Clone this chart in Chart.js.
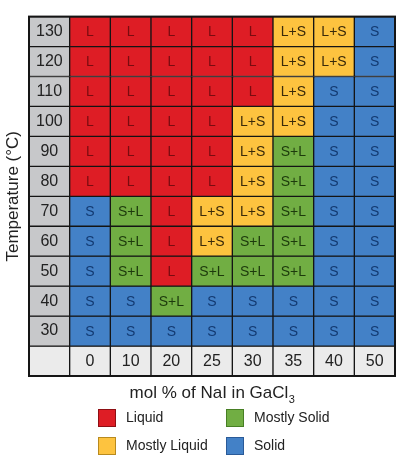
<!DOCTYPE html>
<html>
<head>
<meta charset="utf-8">
<script src="https://cdn.jsdelivr.net/npm/chart.js@4/dist/chart.umd.min.js"></script>
<style>
  html, body { margin: 0; padding: 0; background: #fff; }
  #contenedor { width: 400px; height: 459px; }
</style>
</head>
<body>
<div id="contenedor"><canvas id="graficaFases"></canvas></div>
<script>
// =============================================
// DATOS
// =============================================

// columnas: mol % de NaI
const composiciones = ["0", "10", "20", "25", "30", "35", "40", "50"];
// filas: temperatura, de arriba hacia abajo
const temperaturas = ["130", "120", "110", "100", "90", "80", "70", "60", "50", "40", "30"];

// fase de cada celda, una lista por temperatura
const fase130 = ["L", "L", "L", "L", "L", "L+S", "L+S", "S"];
const fase120 = ["L", "L", "L", "L", "L", "L+S", "L+S", "S"];
const fase110 = ["L", "L", "L", "L", "L", "L+S", "S", "S"];
const fase100 = ["L", "L", "L", "L", "L+S", "L+S", "S", "S"];
const fase90 = ["L", "L", "L", "L", "L+S", "S+L", "S", "S"];
const fase80 = ["L", "L", "L", "L", "L+S", "S+L", "S", "S"];
const fase70 = ["S", "S+L", "L", "L+S", "L+S", "S+L", "S", "S"];
const fase60 = ["S", "S+L", "L", "L+S", "S+L", "S+L", "S", "S"];
const fase50 = ["S", "S+L", "L", "S+L", "S+L", "S+L", "S", "S"];
const fase40 = ["S", "S", "S+L", "S", "S", "S", "S", "S"];
const fase30 = ["S", "S", "S", "S", "S", "S", "S", "S"];
const fases = [fase130, fase120, fase110, fase100, fase90, fase80, fase70, fase60, fase50, fase40, fase30];

// leyenda
const codigosFase = ["L", "L+S", "S+L", "S"];
const nombresFase = ["Liquid", "Mostly Liquid", "Mostly Solid", "Solid"];

// =============================================
// ESTILOS
// =============================================

const coloresFase = { "L": "#de1d25", "L+S": "#fdc33f", "S+L": "#71ae43", "S": "#4381c7" };
const coloresTexto = { "L": "#7a0b10", "L+S": "#3a2a0a", "S+L": "#1d3a0c", "S": "#133a72" };
const bordesLeyenda = { "L": "#8e0f14", "L+S": "#b88a1e", "S+L": "#477f24", "S": "#2a5a98" };
const grisEtiqueta = "#c7c8ca";
const grisInferior = "#ebebeb";
const colorLinea = "#151515";
const fuente = "'Liberation Sans', Arial, sans-serif";

// =============================================
// CONSTRUCCIÓN DE LA GRÁFICA
// =============================================

const nFilas = temperaturas.length;
const etiquetasX = [""].concat(composiciones);

// cada fila es un dataset de barras flotantes [k, k+1]
const datasets = fases.map((fila, r) => {
  const k = nFilas - 1 - r;
  return {
    label: temperaturas[r],
    data: etiquetasX.map(() => [k, k + 1]),
    backgroundColor: [grisEtiqueta].concat(fila.map((f) => coloresFase[f])),
    codigos: [""].concat(fila),
  };
});

// fila inferior gris con las composiciones
datasets.push({
  label: "eje",
  data: etiquetasX.map(() => [-1, 0]),
  backgroundColor: grisInferior,
  codigos: etiquetasX.map(() => ""),
});

// texto dentro de cada celda
const pluginCeldas = {
  id: "textoCeldas",
  afterDatasetsDraw(chart) {
    const ctx = chart.ctx;
    ctx.save();
    ctx.font = "14px " + fuente;
    ctx.textAlign = "center";
    ctx.textBaseline = "middle";
    chart.data.datasets.forEach((ds, i) => {
      const meta = chart.getDatasetMeta(i);
      meta.data.forEach((barra, j) => {
        const codigo = ds.codigos[j];
        if (!codigo) return;
        const p = barra.getCenterPoint();
        ctx.fillStyle = coloresTexto[codigo];
        ctx.fillText(codigo, p.x, p.y + 1);
      });
    });
    // marco exterior
    const a = chart.chartArea;
    ctx.strokeStyle = colorLinea;
    ctx.lineWidth = 2;
    ctx.strokeRect(a.left, a.top, a.right - a.left, a.bottom - a.top);
    ctx.restore();
  },
};

// título del eje x (con subíndice) y leyenda
const pluginExtras = {
  id: "tituloYLeyenda",
  afterDraw(chart) {
    const ctx = chart.ctx;
    const a = chart.chartArea;
    ctx.save();
    ctx.fillStyle = "#222";
    ctx.textBaseline = "alphabetic";

    // título: mol % of NaI in GaCl3
    const principal = "mol % of NaI in GaCl";
    const sub = "3";
    ctx.font = "17px " + fuente;
    const w1 = ctx.measureText(principal).width;
    ctx.font = "11px " + fuente;
    const w2 = ctx.measureText(sub).width;
    const x0 = (a.left + a.right) / 2 - (w1 + w2) / 2;
    const base = a.bottom + 22;
    ctx.font = "17px " + fuente;
    ctx.textAlign = "left";
    ctx.fillText(principal, x0, base);
    ctx.font = "11px " + fuente;
    ctx.fillText(sub, x0 + w1 + 0.5, base + 5);

    // leyenda 2x2
    ctx.font = "14px " + fuente;
    ctx.textBaseline = "middle";
    codigosFase.forEach((codigo, i) => {
      const col = Math.floor(i / 2);
      const fila = i % 2;
      const bx = 98 + col * 128;
      const by = a.bottom + 33 + fila * 28;
      ctx.fillStyle = coloresFase[codigo];
      ctx.fillRect(bx, by, 18, 18);
      ctx.strokeStyle = bordesLeyenda[codigo];
      ctx.lineWidth = 1;
      ctx.strokeRect(bx + 0.5, by + 0.5, 17, 17);
      ctx.fillStyle = "#222";
      ctx.fillText(nombresFase[i], bx + 28, by + 9.5);
    });
    ctx.restore();
  },
};

function inicializarGrafica() {
  const ctx = document.getElementById("graficaFases").getContext("2d");
  new Chart(ctx, {
    type: "bar",
    data: { labels: etiquetasX, datasets: datasets },
    options: {
      responsive: true,
      maintainAspectRatio: false,
      animation: false,
      layout: { padding: { top: 16, right: 5, bottom: 53, left: 0 } },
      datasets: {
        bar: {
          grouped: false,
          barPercentage: 1,
          categoryPercentage: 1,
          borderWidth: 1,
          borderColor: colorLinea,
          borderSkipped: false,
        },
      },
      plugins: {
        legend: { display: false },
        tooltip: { enabled: false },
      },
      scales: {
        x: {
          type: "category",
          grid: { display: false, drawTicks: false },
          border: { display: false },
          ticks: {
            z: 1,
            mirror: true,
            autoSkip: false,
            maxRotation: 0,
            padding: 5,
            color: "#222",
            font: { family: fuente, size: 16 },
          },
          afterFit: (escala) => { escala.height = 30; },
        },
        y: {
          type: "linear",
          min: -1,
          max: nFilas,
          grid: { display: false, drawTicks: false },
          border: { display: false },
          afterBuildTicks: (escala) => {
            escala.ticks = temperaturas.map((t, r) => ({ value: nFilas - 1 - r + 0.5 }));
          },
          ticks: {
            z: 1,
            mirror: true,
            crossAlign: "center",
            padding: 7,
            color: "#222",
            font: { family: fuente, size: 16 },
            callback: (valor) => temperaturas[nFilas - 1 - Math.floor(valor)],
          },
          title: {
            display: true,
            text: "Temperature (°C)",
            color: "#222",
            font: { family: fuente, size: 17 },
            padding: { top: 3, bottom: 0 },
          },
          afterFit: (escala) => { escala.width = 29; },
        },
      },
    },
    plugins: [pluginCeldas, pluginExtras],
  });
}

document.addEventListener("DOMContentLoaded", inicializarGrafica);
</script>
</body>
</html>
